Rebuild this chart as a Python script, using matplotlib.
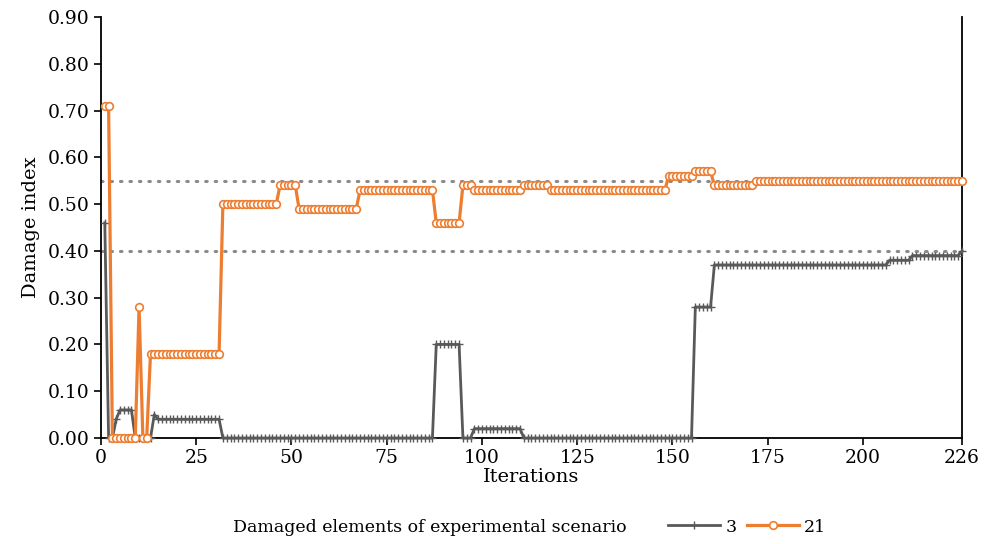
import numpy as np
import matplotlib
matplotlib.use("Agg")
import matplotlib.pyplot as plt
from matplotlib.lines import Line2D

plt.rcParams['font.family'] = ['DejaVu Serif']

# damage index per iteration, stored as (level, number of iterations at that level)
d21_levels = [0.71, 0.00, 0.28, 0.00, 0.18, 0.50, 0.54, 0.49, 0.53, 0.46,
              0.54, 0.53, 0.54, 0.53, 0.56, 0.57, 0.54, 0.55]
d21_runs = [2, 7, 1, 2, 19, 15, 5, 16, 20, 7, 3, 13, 7, 31, 7, 5, 11, 55]

d3_levels = [0.46, 0.00, 0.04, 0.06, 0.00, 0.05, 0.04, 0.00, 0.20, 0.00,
             0.02, 0.00, 0.28, 0.37, 0.38, 0.39, 0.40]
d3_runs = [1, 2, 1, 4, 5, 1, 17, 56, 7, 3, 13, 45, 5, 46, 6, 13, 1]

thresholds = [0.55, 0.40]
xticks = [0, 25, 50, 75, 100, 125, 150, 175, 200, 226]
yticks = [0.0, 0.1, 0.2, 0.3, 0.4, 0.5, 0.6, 0.7, 0.8, 0.9]

d21 = np.repeat(d21_levels, d21_runs)
d3 = np.repeat(d3_levels, d3_runs)
it = np.arange(1, len(d21) + 1)

orange = '#ED7D31'
grey = '#595959'

fig = plt.figure(figsize=(9.88, 5.44), dpi=100)
ax = fig.add_axes([0.1022, 0.1949, 0.8715, 0.7738])

for th in thresholds:
    ax.plot([0, 226], [th, th], color='#8a8a8a', lw=2.2,
            ls=(0, (0.5, 2.6)), dash_capstyle='round', zorder=1)

ax.plot(it, d3, color=grey, lw=2.0, marker='+', ms=6, mew=1.0, zorder=3,
        clip_on=False)
ax.plot(it, d21, color=orange, lw=2.3, marker='o', ms=5.5, mfc='white',
        mec=orange, mew=1.2, zorder=4, clip_on=False)

ax.set_xlim(0, 226)
ax.set_ylim(0, 0.9)
ax.set_xticks(xticks)
ax.set_yticks(yticks)
ax.set_yticklabels([f"{v:.2f}" for v in yticks])
ax.tick_params(axis='both', labelsize=13.5, direction='out', length=5,
               width=1.2, colors='black')
ax.tick_params(axis='x', pad=3)
ax.spines['top'].set_visible(False)
for s in ['left', 'bottom', 'right']:
    ax.spines[s].set_linewidth(1.3)

ax.set_xlabel("Iterations", fontsize=14, labelpad=1)
ax.set_ylabel("Damage index", fontsize=14, labelpad=5)

fig.text(233 / 988, 1 - 527 / 544, "Damaged elements of experimental scenario",
         fontsize=12.5, va='center', ha='left')
handles = [Line2D([], [], color=grey, lw=2.0, marker='+', ms=6, mew=1.0),
           Line2D([], [], color=orange, lw=2.3, marker='o', ms=5.5,
                  mfc='white', mec=orange, mew=1.2)]
fig.legend(handles, ['3', '21'], ncol=2, frameon=False, fontsize=12.5,
           loc='center left', bbox_to_anchor=(668 / 988, 1 - 527 / 544),
           handlelength=3.0, handletextpad=0.3, columnspacing=0.6,
           borderaxespad=0, borderpad=0)

fig.savefig("out.png", dpi=100)
